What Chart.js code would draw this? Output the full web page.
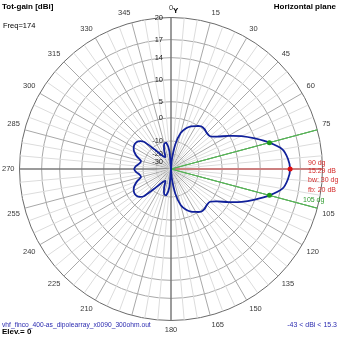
<!DOCTYPE html>
<html lang="en">
<head>
<meta charset="UTF-8">
<title>Horizontal plane - Tot-gain</title>
<script src="https://cdn.jsdelivr.net/npm/chart.js"></script>
<style>
    body { margin: 0; background: #ffffff; }
    #wrap { width: 339px; height: 339px; }
</style>
</head>
<body>
<div id="wrap"><canvas id="pattern"></canvas></div>
<script>
// azimuth (dg), clockwise from top, one step every 5 dg
var azimuth = [0, 5, 10, 15, 20, 25, 30, 35, 40, 45, 50, 55, 60, 65, 70, 75, 80, 85,
    90, 95, 100, 105, 110, 115, 120, 125, 130, 135, 140, 145, 150, 155, 160, 165, 170, 175,
    180, 185, 190, 195, 200, 205, 210, 215, 220, 225, 230, 235, 240, 245, 250, 255, 260, 265,
    270, 275, 280, 285, 290, 295, 300, 305, 310, 315, 320, 325, 330, 335, 340, 345, 350, 355];

// total gain (dBi)
var gainDb = [-43, -27, -12, -6, -3.5, -1.8, -0.7, 0.3, 0.3, -0.2, -0.1, 1.6, 4.7, 7.4, 10.0, 12.29, 14.3, 15.0,
    15.29, 15.0, 14.3, 12.29, 10.0, 7.4, 4.7, 1.6, -0.1, -0.2, 0.3, 0.3, -0.7, -1.8, -3.5, -6, -12, -27,
    -43, -18, -11, -11.5, -16, -22, -21, -18, -12, -5.5, -3.6, -3.1, -3.5, -4.6, -6.5, -8.7, -8.3, -7,
    -6.2, -7, -8.3, -8.7, -6.5, -4.6, -3.5, -3.1, -3.6, -5.5, -12, -18, -21, -22, -16, -11.5, -11, -18];

// rings of the plot (dBi)
var ringDb = [-30, -20, -10, 0, 5, 10, 14, 17, 20];

// azimuth labels covered by the text boxes in the original
var hiddenLabels = [90, 195];

var minGain = -43;
var maxGain = 15.3;
var peakAngle = 90;
var peakGain = 15.29;
var halfPowerAngles = [75, 105];
var halfPowerGain = 12.29;
var frontToBack = 20;
var freq = 174;
var elevation = 0;
var fileName = 'vhf_finco_400-as_dipolearray_x0090_300ohm.out';

// log-like radial scale of the plot: fraction of outer radius at each ring
var ringFrac = [0.046, 0.099, 0.185, 0.338, 0.444, 0.589, 0.735, 0.854, 1];

function toRadius(db) {
    if (db <= ringDb[0]) {
        return Math.max(0, ringFrac[0] * (db - minGain) / (ringDb[0] - minGain));
    }
    for (var i = 1; i < ringDb.length; i++) {
        if (db <= ringDb[i]) {
            var t = (db - ringDb[i - 1]) / (ringDb[i] - ringDb[i - 1]);
            return ringFrac[i - 1] + t * (ringFrac[i] - ringFrac[i - 1]);
        }
    }
    return 1;
}

var FONT = '"Liberation Sans", Arial, sans-serif';

// radial guide: 1 at the wanted azimuth, 0 (centre) on both neighbours
function guide(list) {
    return azimuth.map(function (a) {
        if (list.indexOf(a) >= 0) return 1;
        if (list.indexOf(a - 5) >= 0 || list.indexOf(a + 5) >= 0) return 0;
        return null;
    });
}

var textPlugin = {
    id: 'texts',
    beforeDatasetsDraw: function (chart) {
        var s = chart.scales.r;
        var ctx = chart.ctx;
        ctx.save();
        ctx.font = '7.5px ' + FONT;
        ctx.fillStyle = '#222222';
        ctx.textAlign = 'right';
        ctx.textBaseline = 'middle';
        ringDb.forEach(function (db) {
            ctx.fillText(String(db), s.xCenter - 8, s.yCenter - s.getDistanceFromCenterForValue(toRadius(db)));
        });
        ctx.restore();
    },
    afterDraw: function (chart) {
        var ctx = chart.ctx;
        ctx.save();
        ctx.textBaseline = 'middle';

        ctx.fillStyle = '#000000';
        ctx.font = 'bold 8px ' + FONT;
        ctx.textAlign = 'left';
        ctx.fillText('Tot-gain [dBi]', 2, 7);
        ctx.fillText('Elev.= ' + elevation, 2, 332);
        ctx.fillText('Y', 173, 10.5);
        ctx.textAlign = 'right';
        ctx.fillText('Horizontal plane', 336, 7);

        ctx.font = '7.5px ' + FONT;
        ctx.textAlign = 'left';
        ctx.fillText('Freq=' + freq, 3, 25.5);

        ctx.fillStyle = '#2b2bb0';
        ctx.font = '6.7px ' + FONT;
        ctx.fillText(fileName, 2, 325);
        ctx.textAlign = 'right';
        ctx.font = '7px ' + FONT;
        ctx.fillText(minGain + ' < dBi < ' + maxGain, 337, 325);

        ctx.textAlign = 'left';
        ctx.fillStyle = '#d42a2a';
        ctx.fillText(peakAngle + ' dg', 308, 163);
        ctx.fillText(peakGain.toFixed(2) + ' dB', 308, 171);
        ctx.fillText('bw: ' + (halfPowerAngles[1] - halfPowerAngles[0]) + ' dg', 308, 180.5);
        ctx.fillText('fb: ' + frontToBack + ' dB', 308, 190);
        ctx.fillStyle = '#2e9a2e';
        ctx.fillText(halfPowerAngles[1] + ' dg', 303, 200.5);
        ctx.restore();
    }
};

new Chart(document.getElementById('pattern'), {
    type: 'radar',
    data: {
        labels: azimuth.map(String),
        datasets: [
            {
                // -3 dB markers
                data: azimuth.map(function (a) { return halfPowerAngles.indexOf(a) >= 0 ? toRadius(halfPowerGain) : null; }),
                showLine: false,
                pointRadius: 2.5,
                pointBorderWidth: 0,
                pointBackgroundColor: '#1f9a1f'
            },
            {
                // max gain marker
                data: azimuth.map(function (a) { return a === peakAngle ? toRadius(peakGain) : null; }),
                showLine: false,
                pointRadius: 2.5,
                pointBorderWidth: 0,
                pointBackgroundColor: '#e01010'
            },
            {
                data: gainDb.map(toRadius),
                borderColor: '#10209a',
                borderWidth: 1.8,
                pointRadius: 0,
                fill: false,
                tension: 0.25
            },
            {
                data: guide(halfPowerAngles),
                borderColor: '#55b455',
                borderWidth: 1,
                pointRadius: 0,
                fill: false,
                spanGaps: false
            },
            {
                data: guide([peakAngle]),
                borderColor: '#cc8080',
                borderWidth: 2,
                pointRadius: 0,
                fill: false,
                spanGaps: false
            }
        ]
    },
    options: {
        responsive: true,
        maintainAspectRatio: false,
        animation: false,
        events: [],
        layout: { padding: 0 },
        plugins: {
            legend: { display: false },
            tooltip: { enabled: false }
        },
        scales: {
            r: {
                min: 0,
                max: 1,
                startAngle: 0,
                afterBuildTicks: function (scale) {
                    scale.ticks = [0].concat(ringDb.map(toRadius)).map(function (v) { return { value: v }; });
                },
                ticks: { display: false },
                grid: {
                    circular: true,
                    color: function (ctx) { return ctx.index === ringDb.length ? '#6a6a6a' : '#a8a8a8'; },
                    lineWidth: 1
                },
                angleLines: {
                    color: function (ctx) {
                        if (ctx.index % 18 === 0) return '#7a7a7a';
                        if (ctx.index % 3 === 0) return '#a8a8a8';
                        return '#dcdcdc';
                    },
                    lineWidth: function (ctx) { return ctx.index % 18 === 0 ? 1.5 : 1; }
                },
                pointLabels: {
                    font: { family: FONT, size: 7.5 },
                    color: function (ctx) {
                        return hiddenLabels.indexOf(azimuth[ctx.index]) >= 0 ? 'rgba(0,0,0,0)' : '#3a3a3a';
                    },
                    padding: 5,
                    callback: function (label, i) { return i % 3 === 0 ? label : ''; }
                }
            }
        }
    },
    plugins: [textPlugin]
});
</script>
</body>
</html>
